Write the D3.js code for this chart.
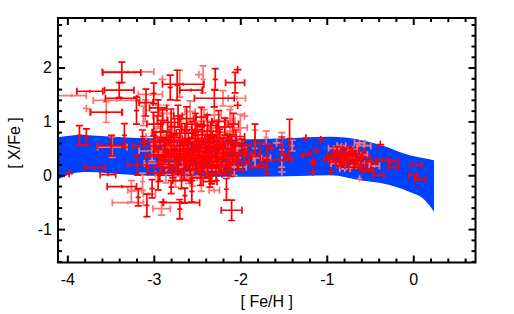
<!DOCTYPE html>
<html>
<head>
<meta charset="utf-8">
<script src="https://cdn.jsdelivr.net/npm/d3@7"></script>
<style>
body { margin: 0; background: #fff; }
text { font-family: "Liberation Sans", Arial, sans-serif; }
</style>
</head>
<body>
<div id="chart"></div>
<script>
// model band (upper / lower envelope of [X/Fe] vs [Fe/H])
var bandFeh = [-4.11, -3.95, -3.85, -3.76, -3.56, -3.18, -3.04, -2.47, -1.89, -1.31, -0.95, -0.62, -0.35, -0.04, 0.11, 0.21, 0.24];
var bandHi  = [0.705, 0.74, 0.751, 0.745, 0.725, 0.69, 0.686, 0.668, 0.668, 0.696, 0.714, 0.659, 0.547, 0.371, 0.32, 0.29, 0.278];
var bandLo  = [-0.08, 0.03, 0.055, 0.06, 0.043, 0.0, -0.01, -0.03, -0.03, -0.013, 0.0, -0.093, -0.154, -0.31, -0.427, -0.61, -0.68];

// stars: [Fe/H], [X/Fe], err [Fe/H], err [X/Fe]
var solidStars = [
    // above the band
    [-3.37, 1.91, 0.22, 0.19], [-3.74, 1.56, 0.15, 0.03], [-3.40, 1.58, 0.17, 0.14],
    [-3.38, 1.43, 0.18, 0.03], [-3.55, 1.17, 0.18, 0.03], [-3.20, 1.20, 0.03, 0.25],
    [-3.86, 0.74, 0.03, 0.18], [-3.78, 0.71, 0.03, 0.15], [-3.34, 0.74, 0.03, 0.22],
    [-2.81, 1.63, 0.03, 0.23], [-2.66, 1.69, 0.24, 0.03], [-2.73, 1.67, 0.03, 0.28],
    [-2.57, 1.58, 0.13, 0.03], [-3.00, 1.52, 0.03, 0.19], [-2.29, 1.78, 0.03, 0.20],
    [-2.03, 1.96, 0.045, 0.07], [-2.06, 1.72, 0.11, 0.19], [-2.30, 1.43, 0.23, 0.16],
    [-2.03, 1.30, 0.045, 0.07], [-3.09, 1.35, 0.08, 0.25], [-2.95, 1.25, 0.10, 0.15],
    [-3.49, 0.55, 0.16, 0.19], [-3.12, 0.54, 0.13, 0.03], [-3.13, 0.72, 0.03, 0.12],
    [-3.00, 0.95, 0.08, 0.22], [-2.90, 1.02, 0.06, 0.20], [-2.80, 0.98, 0.10, 0.25],
    [-2.72, 1.10, 0.05, 0.20], [-2.62, 1.05, 0.08, 0.22], [-2.52, 0.95, 0.10, 0.20],
    [-2.45, 1.08, 0.06, 0.18], [-2.38, 0.92, 0.12, 0.20], [-2.25, 1.00, 0.08, 0.20],
    [-2.18, 0.90, 0.10, 0.16], [-2.08, 0.95, 0.06, 0.20],
    // dense core
    [-2.98, 0.62, 0.12, 0.18], [-2.95, 0.35, 0.15, 0.15], [-2.92, 0.80, 0.10, 0.15],
    [-2.90, 0.15, 0.18, 0.12], [-2.88, 0.48, 0.12, 0.20], [-2.85, 0.70, 0.15, 0.12],
    [-2.83, 0.28, 0.10, 0.15], [-2.80, 0.55, 0.20, 0.18], [-2.78, 0.05, 0.12, 0.10],
    [-2.76, 0.90, 0.08, 0.15], [-2.74, 0.40, 0.15, 0.14], [-2.72, 0.20, 0.10, 0.18],
    [-2.70, 0.65, 0.12, 0.20], [-2.68, -0.10, 0.10, 0.15], [-2.66, 0.45, 0.18, 0.12],
    [-2.64, 0.78, 0.10, 0.18], [-2.62, 0.30, 0.14, 0.15], [-2.60, 0.58, 0.10, 0.20],
    [-2.58, 0.12, 0.16, 0.12], [-2.56, 0.85, 0.12, 0.15], [-2.54, 0.38, 0.10, 0.18],
    [-2.52, 0.68, 0.15, 0.12], [-2.50, 0.22, 0.12, 0.16], [-2.48, 0.50, 0.18, 0.15],
    [-2.46, -0.05, 0.10, 0.14], [-2.44, 0.75, 0.12, 0.18], [-2.42, 0.32, 0.15, 0.12],
    [-2.40, 0.60, 0.10, 0.15], [-2.38, 0.15, 0.14, 0.18], [-2.36, 0.45, 0.12, 0.14],
    [-2.34, 0.82, 0.10, 0.16], [-2.32, 0.25, 0.16, 0.12], [-2.30, 0.55, 0.12, 0.18],
    [-2.28, 0.05, 0.10, 0.15], [-2.26, 0.40, 0.15, 0.14], [-2.24, 0.70, 0.12, 0.15],
    [-2.22, 0.18, 0.10, 0.12], [-2.20, 0.50, 0.14, 0.18], [-2.17, 0.30, 0.12, 0.15],
    [-2.14, 0.62, 0.10, 0.14], [-2.11, 0.10, 0.14, 0.12], [-2.08, 0.42, 0.12, 0.16],
    [-2.05, 0.72, 0.10, 0.12], [-2.02, 0.25, 0.12, 0.15], [-1.98, 0.55, 0.10, 0.12],
    [-1.95, 0.35, 0.08, 0.14],
    [-2.93, 0.05, 0.14, 0.16], [-2.87, 0.38, 0.18, 0.18], [-2.77, 0.62, 0.16, 0.16],
    [-2.71, 0.33, 0.20, 0.14], [-2.65, 0.10, 0.15, 0.18], [-2.61, 0.48, 0.16, 0.16],
    [-2.55, 0.27, 0.20, 0.15], [-2.49, 0.62, 0.14, 0.20], [-2.45, 0.18, 0.18, 0.14],
    [-2.37, 0.52, 0.16, 0.16], [-2.33, 0.02, 0.12, 0.18], [-2.27, 0.62, 0.16, 0.14],
    [-2.21, 0.35, 0.18, 0.16], [-2.15, 0.20, 0.12, 0.18], [-2.10, 0.58, 0.16, 0.14],
    // below the band
    [-3.98, 0.03, 0.045, 0.07], [-3.68, 0.14, 0.12, 0.03], [-3.53, 0.01, 0.09, 0.03],
    [-3.37, -0.21, 0.17, 0.03], [-3.19, 0.19, 0.11, 0.19], [-3.18, -0.41, 0.03, 0.16],
    [-3.08, -0.56, 0.03, 0.21], [-3.02, -0.25, 0.03, 0.17], [-2.89, -0.50, 0.045, 0.07],
    [-2.68, -0.51, 0.21, 0.03], [-2.70, -0.63, 0.03, 0.18], [-2.64, -0.38, 0.03, 0.14],
    [-2.56, -0.30, 0.03, 0.20], [-2.16, -0.26, 0.03, 0.20], [-2.10, -0.65, 0.12, 0.19],
    [-2.95, -0.12, 0.03, 0.15], [-2.80, -0.22, 0.03, 0.12], [-2.35, -0.12, 0.08, 0.10],
    // between the groups
    [-1.83, 0.65, 0.03, 0.30], [-1.77, 0.40, 0.03, 0.20], [-1.69, 0.30, 0.03, 0.28],
    [-1.64, 0.51, 0.045, 0.07], [-1.57, 0.28, 0.17, 0.03], [-1.52, 0.55, 0.03, 0.16],
    [-1.43, 0.68, 0.03, 0.36], [-1.48, 0.37, 0.045, 0.07], [-1.88, 0.40, 0.05, 0.05],
    [-1.80, 0.15, 0.08, 0.05],
    [-1.24, 0.69, 0.045, 0.07], [-1.07, 0.66, 0.045, 0.07], [-1.12, 0.46, 0.045, 0.07],
    [-1.20, 0.40, 0.045, 0.07], [-1.27, 0.37, 0.045, 0.07], [-1.16, 0.25, 0.045, 0.07],
    [-1.16, 0.06, 0.045, 0.07], [-1.15, 0.22, 0.045, 0.07],
    // metal-rich clump
    [-0.98, 0.30, 0.05, 0.05], [-0.95, 0.07, 0.045, 0.07], [-0.93, 0.38, 0.06, 0.06],
    [-0.90, 0.25, 0.08, 0.05], [-0.88, 0.45, 0.05, 0.08], [-0.86, 0.32, 0.10, 0.05],
    [-0.84, 0.18, 0.05, 0.06], [-0.82, 0.40, 0.08, 0.05], [-0.80, 0.28, 0.06, 0.08],
    [-0.78, 0.35, 0.12, 0.06], [-0.77, 0.50, 0.05, 0.05], [-0.75, 0.22, 0.08, 0.06],
    [-0.73, 0.42, 0.06, 0.05], [-0.71, 0.30, 0.10, 0.08], [-0.69, 0.15, 0.06, 0.05],
    [-0.67, 0.38, 0.08, 0.06], [-0.65, 0.27, 0.05, 0.05], [-0.63, 0.45, 0.07, 0.06],
    [-0.61, 0.20, 0.06, 0.08], [-0.58, 0.33, 0.08, 0.05], [-0.55, 0.12, 0.06, 0.06],
    [-0.52, 0.08, 0.06, 0.03], [-0.48, 0.25, 0.05, 0.05], [-0.40, 0.00, 0.06, 0.03],
    [-0.38, 0.57, 0.045, 0.07], [-0.35, 0.28, 0.06, 0.03], [-0.22, 0.26, 0.05, 0.03],
    [-0.23, 0.15, 0.06, 0.03], [0.04, 0.19, 0.06, 0.03], [0.00, 0.00, 0.05, 0.03],
    [0.08, -0.08, 0.06, 0.03]
];

var faintStars = [
    [-3.30, 1.92, 0.30, 0.03], [-3.95, 1.48, 0.17, 0.03], [-3.43, 1.39, 0.27, 0.03],
    [-3.55, 1.17, 0.19, 0.19], [-3.78, 1.24, 0.045, 0.07], [-3.12, 1.10, 0.03, 0.18],
    [-3.48, 0.52, 0.17, 0.19], [-2.90, 1.78, 0.045, 0.07], [-2.70, 1.70, 0.03, 0.25],
    [-2.43, 1.78, 0.03, 0.25], [-2.48, 1.87, 0.045, 0.07], [-2.20, 1.43, 0.03, 0.14],
    [-2.04, 1.43, 0.10, 0.04], [-1.95, 1.10, 0.045, 0.07], [-2.11, 1.05, 0.03, 0.23],
    [-3.04, 1.50, 0.14, 0.03], [-3.10, 1.20, 0.03, 0.20],
    [-2.95, 1.10, 0.06, 0.20], [-2.85, 1.15, 0.08, 0.15], [-2.68, 0.90, 0.12, 0.22],
    [-2.58, 1.18, 0.06, 0.20], [-2.42, 1.00, 0.10, 0.22], [-2.30, 1.12, 0.08, 0.15],
    [-2.12, 1.02, 0.06, 0.20], [-2.00, 0.88, 0.08, 0.25],
    [-3.02, 0.45, 0.15, 0.18], [-2.97, 0.72, 0.12, 0.15], [-2.93, 0.22, 0.18, 0.20],
    [-2.89, 0.58, 0.14, 0.14], [-2.86, 0.02, 0.12, 0.16], [-2.82, 0.40, 0.16, 0.12],
    [-2.79, 0.75, 0.10, 0.18], [-2.75, 0.30, 0.15, 0.15], [-2.71, 0.52, 0.12, 0.20],
    [-2.67, 0.15, 0.18, 0.12], [-2.63, 0.65, 0.12, 0.16], [-2.59, 0.42, 0.14, 0.14],
    [-2.55, -0.02, 0.10, 0.18], [-2.51, 0.80, 0.12, 0.14], [-2.47, 0.35, 0.16, 0.15],
    [-2.43, 0.58, 0.10, 0.12], [-2.39, 0.10, 0.14, 0.16], [-2.35, 0.68, 0.12, 0.18],
    [-2.31, 0.38, 0.15, 0.14], [-2.27, 0.88, 0.10, 0.15], [-2.23, 0.22, 0.12, 0.12],
    [-2.19, 0.60, 0.15, 0.16], [-2.15, 0.45, 0.10, 0.14], [-2.12, 0.80, 0.12, 0.12],
    [-2.07, 0.15, 0.14, 0.15], [-2.03, 0.50, 0.10, 0.18],
    [-3.26, -0.30, 0.03, 0.20], [-3.30, -0.51, 0.18, 0.03], [-3.22, -0.28, 0.08, 0.03],
    [-3.13, -0.12, 0.03, 0.16], [-3.05, -0.35, 0.07, 0.03], [-2.91, -0.62, 0.10, 0.12],
    [-2.75, -0.10, 0.03, 0.12], [-2.45, -0.18, 0.03, 0.12], [-2.30, -0.28, 0.06, 0.05],
    [-2.60, -0.05, 0.10, 0.10],
    [-1.83, 0.50, 0.03, 0.34], [-1.70, 0.70, 0.03, 0.12], [-1.52, 0.47, 0.03, 0.32],
    [-1.58, 0.60, 0.045, 0.07], [-1.40, 0.55, 0.03, 0.10], [-1.52, 0.06, 0.045, 0.07],
    [-1.75, 0.32, 0.10, 0.05],
    [-0.92, 0.50, 0.06, 0.06], [-0.87, 0.22, 0.08, 0.05], [-0.83, 0.55, 0.05, 0.05],
    [-0.79, 0.12, 0.06, 0.06], [-0.74, 0.32, 0.08, 0.05], [-0.70, 0.48, 0.06, 0.06],
    [-0.66, 0.18, 0.05, 0.06], [-0.62, 0.60, 0.06, 0.05], [-0.60, 0.38, 0.07, 0.06],
    [-0.62, -0.06, 0.03, 0.06], [-0.56, 0.22, 0.06, 0.05], [-0.57, 0.55, 0.08, 0.05],
    [-0.45, 0.17, 0.06, 0.03]
];

var xTicks = [-4, -3, -2, -1, 0];
var yTicks = [-1, 0, 1, 2];

var width = 514, height = 314;
var mLeft = 58, mRight = 475.5, mTop = 18, mBottom = 262.5;

var x = d3.scaleLinear().domain([-4.108, 0.72]).range([mLeft, mRight]);
var y = d3.scaleLinear().domain([-1.62, 2.92]).range([mBottom, mTop]);

var xMinor = d3.range(-4, 0.71, 0.2).filter(v => Math.abs(v - Math.round(v)) > 0.01);
var yMinor = d3.range(-1.6, 2.81, 0.2).filter(v => Math.abs(v - Math.round(v)) > 0.01);

var svg = d3.select("#chart").append("svg")
    .attr("width", width)
    .attr("height", height);

svg.append("clipPath").attr("id", "plotclip")
    .append("rect")
    .attr("x", mLeft).attr("y", mTop)
    .attr("width", mRight - mLeft).attr("height", mBottom - mTop);

var plot = svg.append("g").attr("clip-path", "url(#plotclip)");

// blue model band
var band = bandFeh.map((f, i) => ({f: f, hi: bandHi[i], lo: bandLo[i]}));
plot.append("path")
    .datum(band)
    .attr("fill", "#0040ff")
    .attr("d", d3.area()
        .curve(d3.curveMonotoneX)
        .x(d => x(d.f))
        .y0(d => y(d.lo))
        .y1(d => y(d.hi)));

// error bar crosses
var cap = 3.5;
function errPath(d) {
    var cx = x(d[0]), cy = y(d[1]),
        x0 = x(d[0] - d[2]), x1 = x(d[0] + d[2]),
        y0 = y(d[1] - d[3]), y1 = y(d[1] + d[3]);
    var p = "M" + x0 + "," + cy + "H" + x1 + "M" + cx + "," + y0 + "V" + y1;
    if (cx - x0 > 4) p += "M" + x0 + "," + (cy - cap) + "V" + (cy + cap) +
                          "M" + x1 + "," + (cy - cap) + "V" + (cy + cap);
    if (y0 - cy > 4) p += "M" + (cx - cap) + "," + y0 + "H" + (cx + cap) +
                          "M" + (cx - cap) + "," + y1 + "H" + (cx + cap);
    return p;
}

plot.append("g")
    .selectAll("path")
    .data(faintStars)
    .join("path")
    .attr("d", errPath)
    .attr("fill", "none")
    .attr("stroke", "#ff7070")
    .attr("stroke-width", 1.7);

plot.append("g")
    .selectAll("path")
    .data(solidStars)
    .join("path")
    .attr("d", errPath)
    .attr("fill", "none")
    .attr("stroke", "#ff0000")
    .attr("stroke-width", 1.7);

// axes: ticks on all four sides, pointing inwards
function styleAxis(g) {
    g.select(".domain").remove();
    g.selectAll("line").attr("stroke", "#000").attr("stroke-width", 2);
    g.selectAll("text").attr("font-size", 16).attr("fill", "#000");
}

svg.append("g").attr("transform", "translate(0," + mBottom + ")")
    .call(d3.axisBottom(x).tickValues(xTicks).tickSizeInner(-7).tickSizeOuter(0)
        .tickPadding(11).tickFormat(d => String(d)))
    .call(styleAxis);
svg.append("g").attr("transform", "translate(0," + mBottom + ")")
    .call(d3.axisBottom(x).tickValues(xMinor).tickSizeInner(-4).tickSizeOuter(0).tickFormat(""))
    .call(styleAxis);
svg.append("g").attr("transform", "translate(0," + mTop + ")")
    .call(d3.axisTop(x).tickValues(xTicks).tickSizeInner(-7).tickSizeOuter(0).tickFormat(""))
    .call(styleAxis);
svg.append("g").attr("transform", "translate(0," + mTop + ")")
    .call(d3.axisTop(x).tickValues(xMinor).tickSizeInner(-4).tickSizeOuter(0).tickFormat(""))
    .call(styleAxis);

svg.append("g").attr("transform", "translate(" + mLeft + ",0)")
    .call(d3.axisLeft(y).tickValues(yTicks).tickSizeInner(-7).tickSizeOuter(0)
        .tickPadding(6).tickFormat(d => String(d)))
    .call(styleAxis);
svg.append("g").attr("transform", "translate(" + mLeft + ",0)")
    .call(d3.axisLeft(y).tickValues(yMinor).tickSizeInner(-4).tickSizeOuter(0).tickFormat(""))
    .call(styleAxis);
svg.append("g").attr("transform", "translate(" + mRight + ",0)")
    .call(d3.axisRight(y).tickValues(yTicks).tickSizeInner(-7).tickSizeOuter(0).tickFormat(""))
    .call(styleAxis);
svg.append("g").attr("transform", "translate(" + mRight + ",0)")
    .call(d3.axisRight(y).tickValues(yMinor).tickSizeInner(-4).tickSizeOuter(0).tickFormat(""))
    .call(styleAxis);

// frame
svg.append("rect")
    .attr("x", mLeft).attr("y", mTop)
    .attr("width", mRight - mLeft).attr("height", mBottom - mTop)
    .attr("fill", "none")
    .attr("stroke", "#000")
    .attr("stroke-width", 2);

// axis titles
svg.append("text")
    .attr("x", (mLeft + mRight) / 2)
    .attr("y", 307)
    .attr("text-anchor", "middle")
    .attr("font-size", 16)
    .text("[ Fe/H ]");

svg.append("text")
    .attr("transform", "translate(20,143) rotate(-90)")
    .attr("text-anchor", "middle")
    .attr("font-size", 16)
    .text("[ X/Fe ]");
</script>
</body>
</html>
